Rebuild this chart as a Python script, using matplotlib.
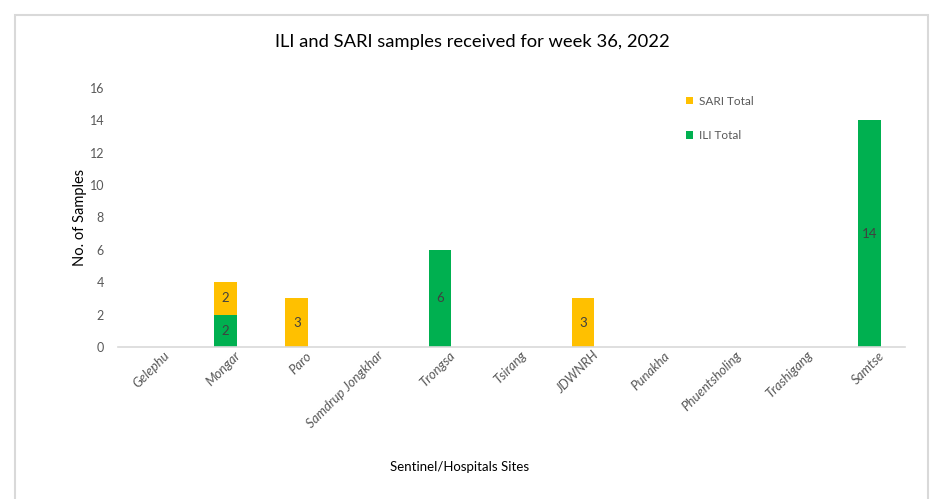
import numpy as np
import matplotlib.pyplot as plt
import matplotlib.transforms as mtransforms
from matplotlib.patches import Rectangle

# sites and sample counts
sites = ["Gelephu", "Mongar", "Paro", "Samdrup Jongkhar", "Trongsa", "Tsirang",
         "JDWNRH", "Punakha", "Phuentsholing", "Trashigang", "Samtse"]
ili_total = [0, 2, 0, 0, 6, 0, 0, 0, 0, 0, 14]
sari_total = [0, 2, 3, 0, 0, 0, 3, 0, 0, 0, 0]

plt.rcParams['font.family'] = ['Lato', 'DejaVu Sans']

fig = plt.figure(figsize=(9.35, 4.99), dpi=100)
ax = fig.add_axes([118/935, 1 - 347/499, 787/935, 259/499])

x = np.arange(len(sites))
w = 0.32
ili_bars = ax.bar(x, ili_total, w, color="#00B050", label="ILI Total")
sari_bars = ax.bar(x, sari_total, w, bottom=ili_total, color="#FFC000", label="SARI Total")

# value labels inside the bars
for i in range(len(sites)):
    if ili_total[i] > 0:
        ax.text(x[i], ili_total[i] / 2, str(ili_total[i]), ha="center", va="center",
                fontsize=9.5, color="#404040")
    if sari_total[i] > 0:
        ax.text(x[i], ili_total[i] + sari_total[i] / 2, str(sari_total[i]), ha="center",
                va="center", fontsize=9.5, color="#404040")

ax.set_xlim(-0.5, len(sites) - 0.5)
ax.set_ylim(0, 16)
ax.set_yticks(range(0, 17, 2))
ax.set_xticks(x)
ax.set_xticklabels(sites, rotation=45, ha="right", rotation_mode="anchor",
                   style="italic", fontsize=9.5, color="#595959")
ax.tick_params(axis="y", labelsize=9, labelcolor="#595959", length=0, pad=10)
ax.tick_params(axis="x", length=0, pad=6)

# nudge rotated labels so their ends sit just right of the category centre
shift = mtransforms.ScaledTranslation(9/100, 6/100, fig.dpi_scale_trans)
for lbl in ax.get_xticklabels():
    lbl.set_transform(lbl.get_transform() + shift)

for s in ["top", "right", "left"]:
    ax.spines[s].set_visible(False)
ax.spines["bottom"].set_color("#d9d9d9")
ax.spines["bottom"].set_linewidth(1.2)

ax.set_ylabel("No. of Samples", fontsize=10.5, color="black", labelpad=2)
fig.text(460/935, 1 - 467/499, "Sentinel/Hospitals Sites", ha="center", va="center",
         fontsize=9.5, color="black")
fig.text(472/935, 1 - 42/499, "ILI and SARI samples received for week 36, 2022",
         ha="center", va="center", fontsize=13.2, color="black")

handles = [sari_bars, ili_bars]
ax.legend(handles, ["SARI Total", "ILI Total"], loc="upper left",
          bbox_to_anchor=(675/935, 1 - 85/499), bbox_transform=fig.transFigure,
          frameon=False, fontsize=8.5, labelcolor="#595959", handlelength=0.6,
          handleheight=0.6, handletextpad=0.5, labelspacing=2.0)

# chart border
fig.patches.append(Rectangle((15/935, -0.05), 913/935, 1.05 - 15/499,
                             transform=fig.transFigure, fill=False,
                             edgecolor="#d9d9d9", linewidth=1.5))

fig.savefig("out.png", dpi=100)
